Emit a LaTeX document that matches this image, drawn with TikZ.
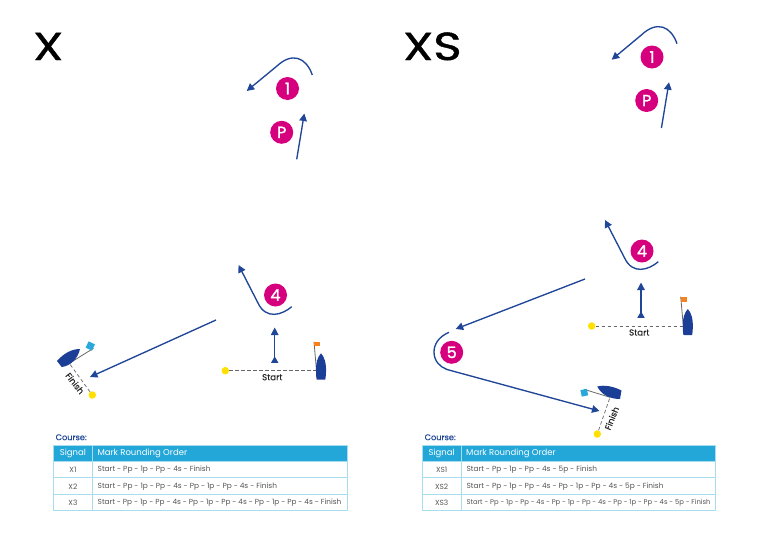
\documentclass[tikz,border=0pt]{standalone}
\usepackage{fontspec}
\setmainfont{Poppins}
\newfontfamily\ttlfont{Poppins}[FakeBold=1.2,FakeStretch=1.24]
\newfontfamily\numfont{Poppins}[FakeBold=1.6]
\newfontfamily\lblfont{Poppins}[FakeBold=0.4]
\usetikzlibrary{arrows.meta}
\definecolor{navy}{HTML}{1F4697}
\definecolor{boat}{HTML}{1B3E96}
\definecolor{mag}{HTML}{D6007F}
\definecolor{tblue}{HTML}{23A7D8}
\definecolor{tline}{HTML}{A8DDF0}
\definecolor{tgrey}{HTML}{555555}
\definecolor{mark}{HTML}{FFE000}
\definecolor{forange}{HTML}{F58220}
\definecolor{fblue}{HTML}{2AA8DC}
\tikzset{
  leg/.style={navy,line width=1.35pt,-{Triangle[length=7.5pt,width=7.5pt]}},
  startarrow/.style={navy,line width=1.35pt,{Triangle[reversed,length=6.5pt,width=7pt]}-{Triangle[length=7.5pt,width=7.5pt]},shorten <=-.5pt},
  buoy/.style={circle,fill=mag,text=white,minimum size=23pt,inner sep=0pt,font=\numfont\fontsize{16}{16}\selectfont},
  yel/.style={circle,fill=mark,minimum size=7.5pt,inner sep=0pt},
  gate/.style={dash pattern=on 3.5pt off 2.5pt,draw=black!60,line width=.85pt},
  pole/.style={draw=black!60,line width=.8pt},
  hull/.style={fill=boat},
  title/.style={font=\ttlfont\fontsize{39}{39}\selectfont,text=black,anchor=base west,inner sep=0pt},
  lbl/.style={font=\lblfont\fontsize{8.6}{9}\selectfont,text=black!85,inner sep=0pt},
  course/.style={font=\lblfont\fontsize{8.2}{9}\selectfont,text=navy,anchor=west,inner sep=0pt},
  hd/.style={font=\fontsize{8.5}{9}\selectfont,text=white,inner sep=0pt},
  cell/.style={font=\fontsize{7.4}{8}\selectfont,text=tgrey,inner sep=0pt},
  cellw/.style={cell,anchor=west},
}
\newcommand{\coursetable}[7]{%
 \fill[tblue] (#1,445) rectangle (#3,461.5);
 \draw[tline,line width=.8pt] (#1,445) rectangle (#3,510.7);
 \draw[tline,line width=.8pt] (#1,461.5) -- (#3,461.5) (#1,477.6) -- (#3,477.6) (#1,494) -- (#3,494) (#2,445) -- (#2,510.7);
 \node[hd] (#4sig) at ({(#1+#2)/2},453.8) {Signal};
 \node[hd,anchor=west] (#4mro) at (#2+5,453.8) {Mark Rounding Order};
 \node[cell] (#4a) at ({(#1+#2)/2},470) {#5};
 \node[cell] (#4b) at ({(#1+#2)/2},486.3) {#6};
 \node[cell] (#4c) at ({(#1+#2)/2},502.7) {#7};
}
\begin{document}
\begin{tikzpicture}[x=1pt,y=-1pt]
\useasboundingbox (0,0) rectangle (773,533);
% ---- titles
\node[title] (tx) at (33,60) {X};
\node[title] (txs) at (403,60) {XS};
% ---- left course
\node[buoy] (l1) at (287.5,88.5) {1};
\node[buoy] (lp) at (281.7,132.3) {P};
\node[buoy] (l4) at (275.5,295) {4};
\coordinate (la1) at (312.3,75);
\coordinate (la2) at (246.7,91);
\draw[leg] (la1) .. controls (306,57) and (292,52) .. (277,66) -- (la2);
\coordinate (lb1) at (296.7,159.3);
\coordinate (lb2) at (304.3,113.5);
\draw[leg] (lb1) -- (lb2);
\coordinate (lc1) at (291.7,306.7);
\coordinate (lc2) at (238.5,265);
\draw[leg] (lc1) .. controls (282,315) and (266,320) .. (258,303) -- (lc2);
\coordinate (ld1) at (216,320);
\coordinate (ld2) at (90,377);
\draw[leg] (ld1) -- (ld2);
% start, left
\node[yel] (ls) at (225.3,370.7) {};
\coordinate (lse) at (316.5,370.7);
\draw[gate] (ls) -- (lse);
\node[lbl] (lst) at (272.3,377.2) {Start};
\coordinate (lar1) at (274.7,362.3);
\coordinate (lar2) at (274.7,327.5);
\draw[startarrow] (lar1) -- (lar2);
\draw[pole] (lse) -- (314,341.7);
\fill[forange] (314.3,342) rectangle (320,346.3);
\fill[hull] (321,353.3) .. controls (324.5,357) and (326.3,363) .. (326,372) .. controls (325.9,376) and (325.5,378) .. (325.3,379.5) -- (316.7,379.5) .. controls (316.3,378) and (316.1,376) .. (316,372) .. controls (315.7,363) and (317.5,357) .. (321,353.3) -- cycle;
% finish, left
\node[yel] (lf) at (92.3,395) {};
\coordinate (lfe) at (69.3,363.3);
\draw[gate,line width=.7pt] (lf) -- (lfe);
\draw[pole] (lfe) -- (93.5,348.3);
\fill[fblue,rotate around={-25:(90.3,346)}] (86.8,342.5) rectangle (93.8,349.5);
\fill[hull] (80,349) .. controls (72,349) and (64,353) .. (57,361) -- (61.7,367) .. controls (71,366) and (78,358) .. (80,349) -- cycle;
\node[lbl,rotate=-52] (lft) at (75,383.3) {Finish};
% ---- right course
\node[buoy] (r1) at (652,57) {1};
\node[buoy] (rp) at (646.7,100.5) {P};
\node[buoy] (r4) at (642,251) {4};
\node[buoy] (r5) at (451.7,352.3) {5};
\coordinate (ra1) at (677,43.7);
\coordinate (ra2) at (611.7,59.7);
\draw[leg] (ra1) .. controls (670.7,25.7) and (656.7,20.7) .. (641.7,34.7) -- (ra2);
\coordinate (rb1) at (661.4,128);
\coordinate (rb2) at (669,82.2);
\draw[leg] (rb1) -- (rb2);
\coordinate (rc1) at (658.3,261.7);
\coordinate (rc2) at (605,220);
\draw[leg] (rc1) .. controls (648.6,270) and (632.6,275) .. (624.6,258) -- (rc2);
\coordinate (rd1) at (585,279);
\coordinate (rd2) at (455.7,329);
\draw[leg] (rd1) -- (rd2);
\coordinate (re1) at (449,332.3);
\coordinate (re2) at (599.5,411);
\draw[leg] (re1) .. controls (438,337) and (434,345) .. (434,352) .. controls (434,361) and (440,367) .. (447,369.5) -- (re2);
% start, right
\node[yel] (rs) at (591.7,326) {};
\coordinate (rse) at (683.3,326);
\draw[gate] (rs) -- (rse);
\node[lbl] (rst) at (639.3,332.5) {Start};
\coordinate (rar1) at (641,317.3);
\coordinate (rar2) at (641,282.5);
\draw[startarrow] (rar1) -- (rar2);
\draw[pole] (rse) -- (680.7,296.7);
\fill[forange] (681,297.3) rectangle (686.7,301.7);
\fill[hull] (687.8,309) .. controls (691.3,312.7) and (693.1,318.7) .. (692.8,327.7) .. controls (692.7,331.7) and (692.3,333.7) .. (692.1,335) -- (683.5,335) .. controls (683.1,333.7) and (682.9,331.7) .. (682.8,327.7) .. controls (682.5,318.7) and (684.3,312.7) .. (687.8,309) -- cycle;
% finish, right
\node[yel] (rf) at (597.3,434) {};
\coordinate (rfe) at (610,397.3);
\draw[gate,line width=.7pt] (rf) -- (rfe);
\draw[pole] (rfe) -- (584,389.3);
\fill[fblue,rotate around={12:(584.3,392.7)}] (581,389.4) rectangle (587.6,396);
\fill[hull] (597.3,386.5) .. controls (604,384.5) and (614,386.5) .. (621.5,390.5) -- (620,399) .. controls (609,399) and (601,394) .. (597.3,386.5) -- cycle;
\node[lbl,rotate=68] (rft) at (611.7,418.3) {Finish};
% ---- tables
\node[course] (lcourse) at (55.5,437.3) {Course:};
\node[course] (rcourse) at (424.5,437.3) {Course:};
\coursetable{53.5}{92.3}{347.7}{l}{X1}{X2}{X3}
\node[cellw] (lr1) at (97.5,470) {Start - Pp - 1p - Pp - 4s - Finish};
\node[cellw] (lr2) at (97.5,486.3) {Start - Pp - 1p - Pp - 4s - Pp - 1p - Pp - 4s - Finish};
\node[cellw,font=\fontsize{7.33}{8}\selectfont] (lr3) at (97.5,502.7) {Start - Pp - 1p - Pp - 4s - Pp - 1p - Pp - 4s - Pp - 1p - Pp - 4s - Finish};
\coursetable{422.3}{461}{715.7}{r}{XS1}{XS2}{XS3}
\node[cellw] (rr1) at (466.3,470) {Start - Pp - 1p - Pp - 4s - 5p - Finish};
\node[cellw] (rr2) at (466.3,486.3) {Start - Pp - 1p - Pp - 4s - Pp - 1p - Pp - 4s - 5p - Finish};
\node[cellw,font=\fontsize{6.85}{8}\selectfont] (rr3) at (466.3,502.7) {Start - Pp - 1p - Pp - 4s - Pp - 1p - Pp - 4s - Pp - 1p - Pp - 4s - 5p - Finish};
\end{tikzpicture}
\end{document}
